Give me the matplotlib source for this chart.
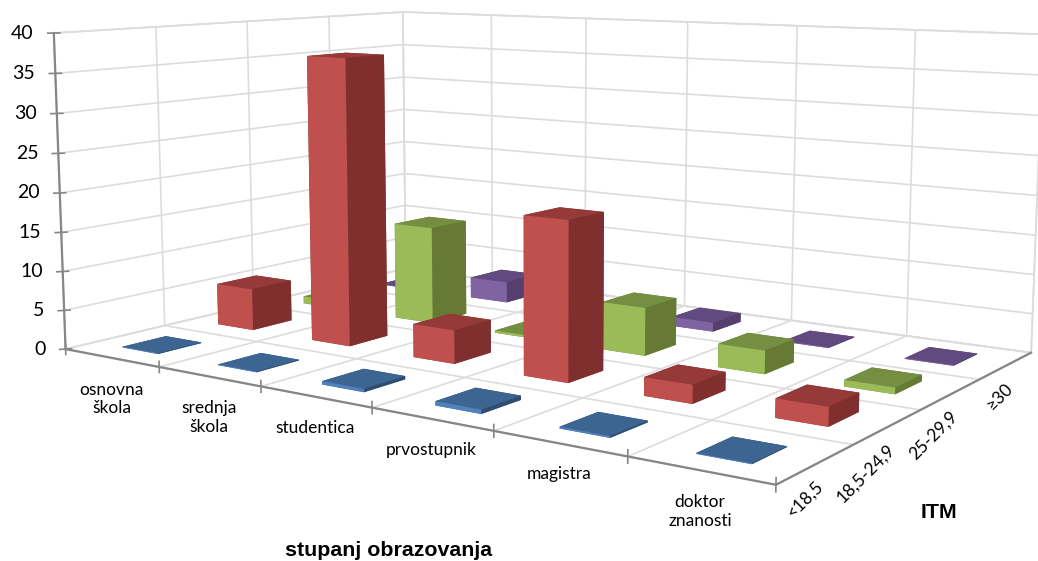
import numpy as np
import matplotlib
matplotlib.use("Agg")
import matplotlib.pyplot as plt
from mpl_toolkits.mplot3d import proj3d

# education levels along the front axis, ITM classes going back
levels = ["osnovna\nškola", "srednja\nškola", "studentica", "prvostupnik", "magistra", "doktor\nznanosti"]
itm = ["<18,5", "18,5-24,9", "25-29,9", "≥30"]
z_ticks = [0, 5, 10, 15, 20, 25, 30, 35, 40]

itm_under = [0.1, 0.1, 0.4, 0.5, 0.2, 0.1]
itm_normal = [5.5, 36.8, 4.2, 19.4, 2.2, 2.2]
itm_over = [1.0, 13.0, 0.3, 6.1, 2.9, 0.8]
itm_obese = [0.1, 2.9, 0.3, 1.2, 0.1, 0.1]
series = [itm_under, itm_normal, itm_over, itm_obese]

# front, side, top
face_colors = [
    ("#4f81bd", "#2f4d71", "#3d6591"),
    ("#c0504d", "#7f302e", "#953a38"),
    ("#9bbb59", "#667a35", "#748f41"),
    ("#8064a2", "#553f6f", "#614a7e"),
]
bar_w, bar_d = 0.38, 0.44
grid_col = "#dcdcdc"
axis_col = "#868686"

W, H = 1038, 561
plt.rcParams["grid.color"] = grid_col
plt.rcParams["grid.linewidth"] = 1.2
plt.rcParams["font.family"] = ["Lato", "DejaVu Sans"]

fig = plt.figure(figsize=(W/100, H/100), dpi=100)
ax = fig.add_axes([0, 0, 1, 1], projection="3d")
ax.computed_zorder = False
ax.set_xlim(0, 6)
ax.set_ylim(0, 4)
ax.set_zlim(0, 40)
ax.view_init(elev=8.241, azim=-55.207, roll=-0.031)
ax.set_box_aspect((1, 0.6744, 0.3954), zoom=2.89)

# place the axes so that the box lands where it is in the reference
scale, tx, ty = 1867.8, 546.72, 366.78
vl = ax.viewLim
ax.set_position([(tx + scale*vl.x0)/W, (ty + scale*vl.y0)/H, scale*vl.width/W, scale*vl.height/H])

ax.set_xticks(range(7))
ax.set_yticks(range(5))
ax.set_zticks(z_ticks)
ax.set_xticklabels([])
ax.set_yticklabels([])
ax.set_zticklabels([])
ax.tick_params(axis="both", color=(0, 0, 0, 0))
for a in (ax.xaxis, ax.yaxis, ax.zaxis):
    a.set_pane_color("white")
    a.pane.set_edgecolor(grid_col)
    a.pane.set_linewidth(1.2)
    a.line.set_color((0, 0, 0, 0))

xs, ys, zs, colors = [], [], [], []
for j, vals in enumerate(series):
    front, side, top = face_colors[j]
    for i, v in enumerate(vals):
        xs.append(i + 0.5 - bar_w/2)
        ys.append(j + 0.5 - bar_d/2)
        zs.append(v)
        # bar3d face order: -z, +z, -y, +y, -x, +x
        colors += [top, top, front, side, side, side]
n = len(xs)
bars = ax.bar3d(xs, ys, np.zeros(n), [bar_w]*n, [bar_d]*n, zs, color=colors, shade=False, zorder=3, linewidth=0)
bars.set_clip_on(False)

line_kw = dict(color=axis_col, lw=1.6, zorder=4, clip_on=False)
tick_kw = dict(color=axis_col, lw=1.2, zorder=4, clip_on=False)
ax.plot([0, 6], [0, 0], [0, 0], **line_kw)
ax.plot([6, 6], [0, 4], [0, 0], **line_kw)
ax.plot([0, 0], [0, 0], [0, 40], **line_kw)
for i in range(7):
    ax.plot([i, i], [0, 0], [-0.7, 0.7], **tick_kw)
for z in z_ticks:
    ax.plot([-0.027, 0.027], [-0.033, 0.033], [z, z], **tick_kw)


def label_at(x, y, z, text, dx, dy, **kw):
    px, py, _ = proj3d.proj_transform(x, y, z, ax.get_proj())
    ax.annotate(text, xy=(px, py), xycoords="data", xytext=(dx, dy), textcoords="offset pixels",
                annotation_clip=False, **kw)


for z in z_ticks:
    label_at(0, 0, z, str(z), -20, 0, ha="right", va="center", fontsize=14, color="black")
for i, lab in enumerate(levels):
    dy = -41 if "\n" in lab else -31
    label_at(i + 0.5, 0, 0, lab, 0, dy, ha="center", va="center", fontsize=12.5, linespacing=1.2, color="black")
for j, lab in enumerate(itm):
    label_at(6, j + 0.5, 0, lab, 4, -20, ha="right", va="center", fontsize=12.5, rotation=45,
             rotation_mode="anchor", color="black")

fig.text(389/W, 1 - 550/H, "stupanj obrazovanja", family="Liberation Sans", weight="bold", fontsize=15.4, ha="center", va="center")
fig.text(939/W, 1 - 512/H, "ITM", family="Liberation Sans", weight="bold", fontsize=15.4, ha="center", va="center")

fig.savefig("out.png", dpi=100)
